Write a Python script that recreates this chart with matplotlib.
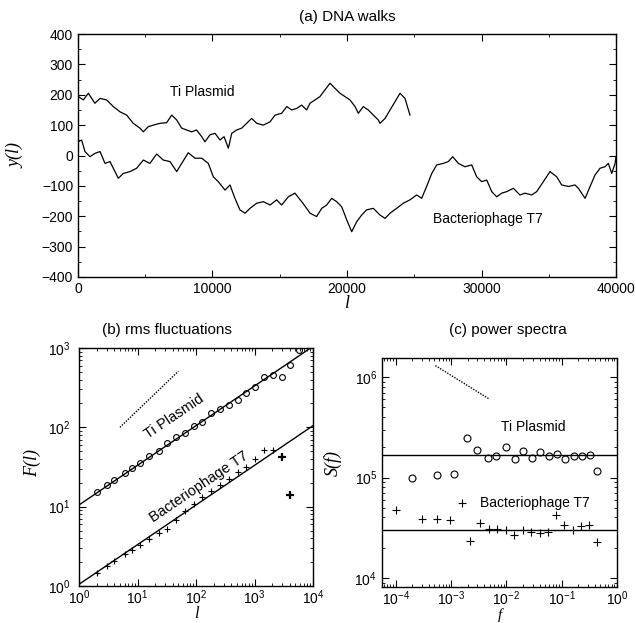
import matplotlib
matplotlib.use("Agg")
import matplotlib.pyplot as plt
from matplotlib.ticker import MultipleLocator, LogLocator, NullFormatter

# (a) DNA walks
ti_walk_x = [0, 400, 770, 1260, 1640, 2130, 2630, 3120, 3620, 4110, 4610, 4860,
             5230, 5600, 6100, 6590, 6970, 7340, 7710, 8080, 8450, 8820, 9200,
             9440, 9810, 10190, 10560, 10860, 11180, 11430, 11800, 12170, 12540,
             12910, 13290, 13780, 14280, 14650, 15140, 15520, 15890, 16260, 16630,
             17000, 17250, 17620, 17990, 18360, 18740, 19110, 19480, 19850, 20220,
             20600, 20840, 21210, 21580, 21960, 22330, 22450, 22830, 23200, 23570,
             23940, 24310, 24680]
ti_walk_y = [195, 183, 205, 172, 188, 183, 161, 144, 133, 106, 90, 78,
             95, 100, 106, 108, 133, 117, 90, 84, 78, 84, 62,
             45, 68, 73, 51, 62, 24, 73, 84, 90, 106,
             122, 106, 100, 111, 133, 139, 161, 150, 155, 166,
             150, 172, 183, 194, 216, 238, 221, 205, 194, 183,
             161, 139, 161, 150, 133, 117, 106, 122, 150, 177,
             205, 188, 133]

t7_walk_x = [0, 273, 520, 890, 1260, 1640, 2010, 2380, 2750, 3000, 3370, 3870,
             4360, 4860, 5350, 5850, 6340, 6840, 7340, 7710, 8200, 8700, 9200,
             9690, 10060, 10430, 10930, 11300, 11670, 12040, 12420, 12790, 13290,
             13780, 14280, 14770, 15140, 15640, 16130, 16630, 17000, 17250, 17740,
             18120, 18490, 18860, 19230, 19610, 19980, 20350, 20720, 21090, 21460,
             21960, 22450, 22830, 23200, 23690, 24190, 24680, 25180, 25550, 25920,
             26300, 26670, 27160, 27530, 27860, 28280, 28770, 29270, 29640, 30010,
             30390, 30760, 31130, 31500, 31870, 32370, 32860, 33230, 33730, 34100,
             34600, 35090, 35590, 35960, 36460, 36950, 37200, 37700, 38070, 38440,
             38810, 39180, 39430, 39680, 39930, 40000]
t7_walk_y = [45, 51, 13, -4, 7, 13, -26, -20, -53, -75, -59, -53,
             -42, -15, -26, 5, -15, -20, -53, -26, 9, -9, -9,
             -26, -70, -86, -114, -97, -141, -179, -190, -174, -157,
             -152, -163, -146, -163, -136, -124, -152, -174, -190, -201,
             -174, -163, -141, -152, -169, -212, -251, -218, -196, -179,
             -174, -196, -207, -190, -174, -157, -146, -130, -141, -102,
             -59, -31, -26, -20, -4, -26, -37, -31, -70, -86,
             -81, -119, -136, -124, -119, -108, -130, -124, -130, -119,
             -86, -53, -70, -97, -102, -97, -108, -141, -102, -64,
             -42, -37, -26, -59, -26, -4]

# (b) rms fluctuations
ti_l = [2, 3, 4, 6, 8, 11, 16, 23, 32, 45, 64, 91, 128, 181, 256, 362, 512,
        724, 1024, 1448, 2048, 2896, 4096, 5793]
ti_F = [15.4, 18.8, 21.5, 26.7, 30.5, 36, 44, 51, 63, 75, 84, 104, 117, 150,
        169, 191, 223, 270, 324, 425, 456, 437, 608, 940]
t7_l = [2, 3, 4, 6, 8, 11, 16, 23, 32, 45, 64, 91, 128, 181, 256, 362, 512,
        724, 1024, 1448, 2048, 2896, 4096]
t7_F = [1.45, 1.8, 2.05, 2.55, 2.85, 3.3, 3.9, 4.6, 5.3, 6.8, 8.9, 10.9, 13.3,
        15.9, 18.8, 22.4, 27.5, 31.4, 40, 51.5, 51.5, 42, 14.2]
ti_fit_l = [1, 1e4]
ti_fit_F = [10.5, 1050]
t7_fit_l = [1, 1e4]
t7_fit_F = [1.05, 105]
b_guide_l = [5, 50]
b_guide_F = [100, 510]

# (c) power spectra
ti_f = [2.0e-4, 5.6e-4, 1.12e-3, 1.9e-3, 3.0e-3, 4.6e-3, 6.6e-3, 9.8e-3,
        1.41e-2, 2.0e-2, 2.9e-2, 4.1e-2, 5.9e-2, 8.3e-2, 0.117, 0.166, 0.229,
        0.324, 0.437]
ti_S = [9.8e4, 1.05e5, 1.08e5, 2.45e5, 1.9e5, 1.58e5, 1.62e5, 2.0e5, 1.52e5,
        1.85e5, 1.58e5, 1.8e5, 1.65e5, 1.72e5, 1.52e5, 1.62e5, 1.65e5, 1.66e5,
        1.15e5]
t7_f = [1.0e-4, 2.95e-4, 5.6e-4, 9.5e-4, 1.55e-3, 2.2e-3, 3.3e-3, 4.8e-3,
        6.9e-3, 9.8e-3, 1.38e-2, 2.0e-2, 2.8e-2, 4.0e-2, 5.6e-2, 7.9e-2, 0.112,
        0.158, 0.224, 0.316, 0.437]
t7_S = [4.7e4, 3.9e4, 3.9e4, 3.8e4, 5.6e4, 2.35e4, 3.55e4, 3.1e4, 3.1e4,
        3.0e4, 2.7e4, 3.0e4, 2.9e4, 2.8e4, 2.9e4, 4.2e4, 3.4e4, 3.0e4, 3.3e4,
        3.4e4, 2.3e4]
ti_level = 1.68e5
t7_level = 3.0e4
c_guide_f = [5.2e-4, 5.0e-3]
c_guide_S = [1.3e6, 6.0e5]

plt.rcParams['font.family'] = ['Liberation Sans', 'DejaVu Sans']
plt.rcParams['mathtext.fontset'] = 'custom'
plt.rcParams['mathtext.rm'] = 'Liberation Sans'
plt.rcParams['font.size'] = 10
plt.rcParams['axes.linewidth'] = 1.0

ital = dict(family='Liberation Serif', style='italic', fontsize=13)


def style_ticks(ax, xpad=3.5, ypad=3.5):
    ax.tick_params(which='both', direction='in', top=True, right=True,
                   labelsize=10)
    ax.tick_params(which='major', length=5, width=0.8)
    ax.tick_params(which='minor', length=2.5, width=0.6)
    ax.tick_params(axis='x', which='major', pad=xpad)
    ax.tick_params(axis='y', which='major', pad=ypad)


def log_ticks(ax):
    for axis in (ax.xaxis, ax.yaxis):
        axis.set_major_locator(LogLocator(base=10, numticks=20))
        axis.set_minor_locator(LogLocator(base=10, subs=range(2, 10),
                                          numticks=20))
        axis.set_minor_formatter(NullFormatter())


fig = plt.figure(figsize=(6.36, 6.23), dpi=100)

# ---- (a) DNA walks
ax_a = fig.add_axes([0.1226, 0.5554, 0.846, 0.390])
ax_a.plot(ti_walk_x, ti_walk_y, color='black', lw=0.9)
ax_a.plot(t7_walk_x, t7_walk_y, color='black', lw=0.9)
ax_a.set_xlim(0, 40000)
ax_a.set_ylim(-400, 400)
ax_a.xaxis.set_major_locator(MultipleLocator(10000))
ax_a.xaxis.set_minor_locator(MultipleLocator(5000))
ax_a.yaxis.set_major_locator(MultipleLocator(100))
ax_a.yaxis.set_minor_locator(MultipleLocator(50))
style_ticks(ax_a)
ax_a.text(9240, 208, 'Ti Plasmid', ha='center', va='center', fontsize=10)
ax_a.text(30500, -210, 'Bacteriophage T7', ha='center', va='center',
          fontsize=10)
ax_a.text(0.5, 1.07, '(a) DNA walks', transform=ax_a.transAxes,
          ha='center', va='center', fontsize=11)
ax_a.text(0.5, -0.11, 'l', transform=ax_a.transAxes, ha='center',
          va='center', **ital)
ax_a.text(-0.115, 0.5, 'y(l)', transform=ax_a.transAxes, ha='center',
          va='center', rotation=90, **ital)

# ---- (b) rms fluctuations
ax_b = fig.add_axes([0.1242, 0.0594, 0.368, 0.382])
ax_b.set_xscale('log')
ax_b.set_yscale('log')
ax_b.plot(ti_fit_l, ti_fit_F, color='black', lw=1.0)
ax_b.plot(t7_fit_l, t7_fit_F, color='black', lw=1.0)
ax_b.plot(ti_l, ti_F, ls='none', marker='o', ms=4.2, mfc='none',
          mec='black', mew=0.8)
ax_b.plot(t7_l[:-2], t7_F[:-2], ls='none', marker='+', ms=5, mec='black',
          mew=0.8)
ax_b.plot(t7_l[-2:], t7_F[-2:], ls='none', marker='+', ms=5.5, mec='black',
          mew=1.6)
ax_b.plot(b_guide_l, b_guide_F, color='black', ls=(0, (1, 1)), lw=1.0)
ax_b.set_xlim(1, 1e4)
ax_b.set_ylim(1, 1e3)
log_ticks(ax_b)
style_ticks(ax_b, xpad=2, ypad=6)
ax_b.text(43, 136, 'Ti Plasmid', ha='center', va='center', rotation=34,
          rotation_mode='anchor', fontsize=10.5)
ax_b.text(111, 17.8, 'Bacteriophage T7', ha='center', va='center',
          rotation=34, rotation_mode='anchor', fontsize=10.5)
ax_b.text(0.376, 1.076, '(b) rms fluctuations', transform=ax_b.transAxes,
          ha='center', va='center', fontsize=11)
ax_b.text(0.5, -0.118, 'l', transform=ax_b.transAxes, ha='center',
          va='center', family='Liberation Serif', style='italic',
          fontsize=12)
ax_b.text(-0.20, 0.517, 'F(l)', transform=ax_b.transAxes, ha='center',
          va='center', rotation=90, **ital)

# ---- (c) power spectra
ax_c = fig.add_axes([0.6006, 0.0578, 0.3695, 0.3676])
ax_c.set_xscale('log')
ax_c.set_yscale('log')
ax_c.axhline(ti_level, color='black', lw=1.0)
ax_c.axhline(t7_level, color='black', lw=1.0)
ax_c.plot(ti_f, ti_S, ls='none', marker='o', ms=5, mfc='none', mec='black',
          mew=0.8)
ax_c.plot(t7_f, t7_S, ls='none', marker='+', ms=6, mec='black', mew=0.8)
ax_c.plot(c_guide_f, c_guide_S, color='black', ls=(0, (1, 1)), lw=1.0)
ax_c.set_xlim(10 ** -4.25, 1)
ax_c.set_ylim(10 ** 3.91, 10 ** 6.19)
log_ticks(ax_c)
style_ticks(ax_c, xpad=2)
ax_c.text(0.031, 3.16e5, 'Ti Plasmid', ha='center', va='center',
          fontsize=10)
ax_c.text(0.033, 5.6e4, 'Bacteriophage T7', ha='center', va='center',
          fontsize=10)
ax_c.text(0.536, 1.122, '(c) power spectra', transform=ax_c.transAxes,
          ha='center', va='center', fontsize=11)
ax_c.text(0.5, -0.122, 'f', transform=ax_c.transAxes, ha='center',
          va='center', family='Liberation Serif', style='italic',
          fontsize=11)
ax_c.text(-0.208, 0.54, 'S(f)', transform=ax_c.transAxes, ha='center',
          va='center', rotation=90, **ital)

fig.savefig('out.png', dpi=100)
